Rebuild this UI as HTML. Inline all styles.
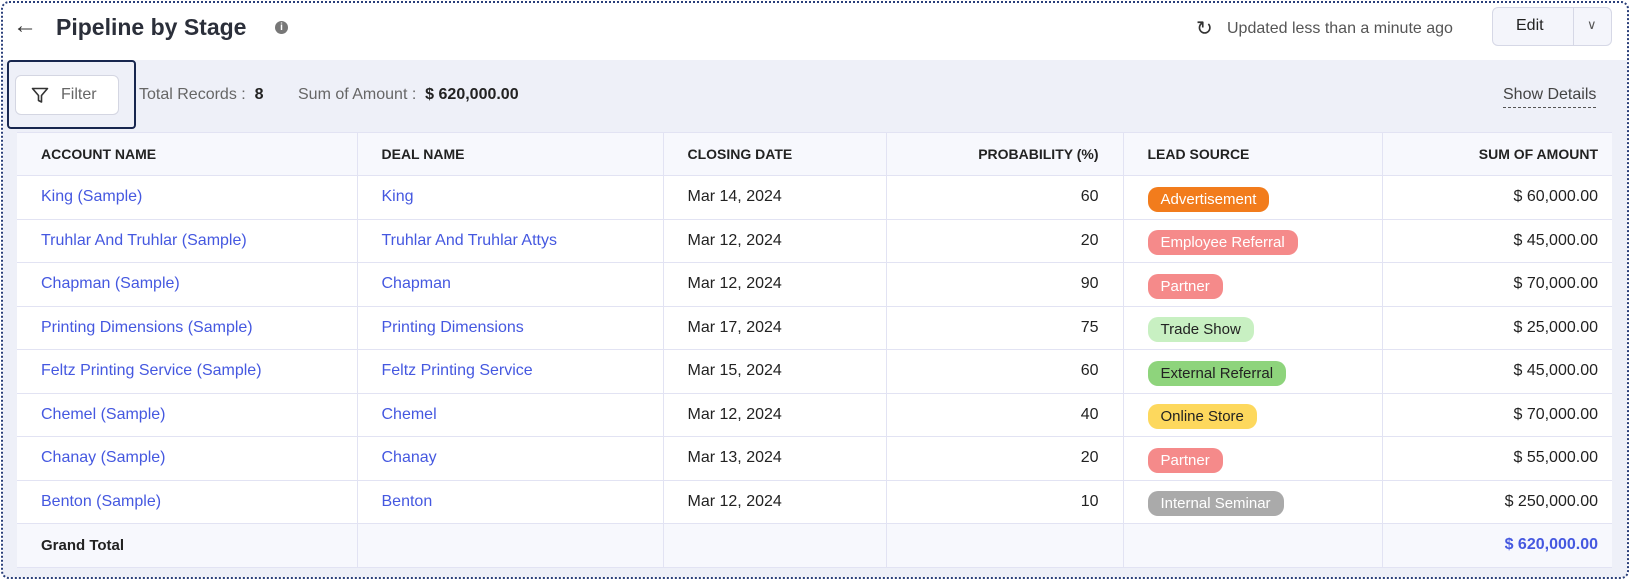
<!DOCTYPE html>
<html><head><meta charset="utf-8"><style>
*{box-sizing:border-box;margin:0;padding:0}
body{width:1630px;height:580px;background:#fff;font-family:"Liberation Sans",sans-serif;color:#222;position:relative;overflow:hidden}
.frame{position:absolute;left:1px;top:1px;width:1628px;height:578px;border:2px dotted #2a3f7a;border-radius:8px}
.abs{position:absolute;white-space:nowrap}
.band{position:absolute;left:3px;top:60px;width:1624px;height:517px;background:#eef0f8}
table{position:absolute;left:17px;top:132px;width:1595px;border-collapse:collapse;background:#fff;font-size:16px}
td,th{border:1px solid #e2e3f3;height:43.5px;padding:0 24px;text-align:left}
th{height:43px;background:#f7f8fd;font-size:14px;font-weight:bold;color:#222}
tr td:first-child,tr th:first-child{border-left:none}
tr td:last-child,tr th:last-child{border-right:none;padding-right:14px}
.r{text-align:right}
a{color:#4558e0;text-decoration:none}
.b{display:inline-block;padding:0 13px;height:25px;line-height:25px;border-radius:10px;font-size:15px;position:relative;top:2px}
.tot td{background:#f7f8fd;font-weight:bold}
</style></head><body>
<div class="band"></div>
<div class="frame"></div>
<div class="abs" style="left:13px;top:12px;font-size:24px;color:#333">&#8592;</div>
<div class="abs" style="left:56px;top:14px;font-size:23px;font-weight:bold;color:#2b2f3a">Pipeline by Stage</div>
<div class="abs" style="left:275px;top:21px;width:13px;height:13px;border-radius:50%;background:#777;color:#fff;font-size:10px;text-align:center;line-height:13px;font-weight:bold">i</div>
<div class="abs" style="left:1196px;top:16px;font-size:20px;color:#333">&#8635;</div>
<div class="abs" style="left:1227px;top:20px;font-size:16px;color:#555">Updated less than a minute ago</div>
<div class="abs" style="left:1492px;top:7px;width:120px;height:39px;border:1px solid #d6d8e6;border-radius:6px;background:#f4f5fb"></div>
<div class="abs" style="left:1573px;top:8px;width:1px;height:37px;background:#d6d8e6"></div>
<div class="abs" style="left:1516px;top:17px;font-size:16px;color:#222">Edit</div>
<div class="abs" style="left:1587px;top:17px;font-size:13px;color:#555">&#8744;</div>
<div class="abs" style="left:7px;top:60px;width:129px;height:69px;border:2px solid #17264f;border-radius:4px"></div>
<div class="abs" style="left:15px;top:75px;width:104px;height:40px;border:1px solid #d4d6e2;border-radius:6px;background:#fff"></div>
<svg class="abs" style="left:31px;top:87px" width="18" height="17" viewBox="0 0 18 17"><path d="M1.5 1.5h15l-6 7v6.5l-3-1.5v-5z" fill="none" stroke="#333" stroke-width="1.6" stroke-linejoin="round"/></svg>
<div class="abs" style="left:61px;top:86px;font-size:16px;color:#666">Filter</div>
<div class="abs" style="left:139px;top:86px;font-size:16px;color:#666">Total Records : <b style="color:#222">&nbsp;8</b></div>
<div class="abs" style="left:298px;top:86px;font-size:16px;color:#666">Sum of Amount : <b style="color:#222">&nbsp;$ 620,000.00</b></div>
<div class="abs" style="left:1503px;top:86px;font-size:16px;color:#444;border-bottom:1px dashed #555;padding-bottom:3px">Show Details</div>
<table>
<colgroup><col style="width:340px"><col style="width:306px"><col style="width:223px"><col style="width:237px"><col style="width:259px"><col></colgroup>
<tr><th>ACCOUNT NAME</th><th>DEAL NAME</th><th>CLOSING DATE</th><th class="r">PROBABILITY (%)</th><th>LEAD SOURCE</th><th class="r">SUM OF AMOUNT</th></tr>
<tr><td><a>King (Sample)</a></td><td><a>King</a></td><td>Mar 14, 2024</td><td class="r">60</td><td><span class="b" style="background:#f27c1c;color:#fff">Advertisement</span></td><td class="r">$ 60,000.00</td></tr>
<tr><td><a>Truhlar And Truhlar (Sample)</a></td><td><a>Truhlar And Truhlar Attys</a></td><td>Mar 12, 2024</td><td class="r">20</td><td><span class="b" style="background:#f58a8a;color:#fff">Employee Referral</span></td><td class="r">$ 45,000.00</td></tr>
<tr><td><a>Chapman (Sample)</a></td><td><a>Chapman</a></td><td>Mar 12, 2024</td><td class="r">90</td><td><span class="b" style="background:#f58a8a;color:#fff">Partner</span></td><td class="r">$ 70,000.00</td></tr>
<tr><td><a>Printing Dimensions (Sample)</a></td><td><a>Printing Dimensions</a></td><td>Mar 17, 2024</td><td class="r">75</td><td><span class="b" style="background:#c8f0c2;color:#222">Trade Show</span></td><td class="r">$ 25,000.00</td></tr>
<tr><td><a>Feltz Printing Service (Sample)</a></td><td><a>Feltz Printing Service</a></td><td>Mar 15, 2024</td><td class="r">60</td><td><span class="b" style="background:#8ed47c;color:#222">External Referral</span></td><td class="r">$ 45,000.00</td></tr>
<tr><td><a>Chemel (Sample)</a></td><td><a>Chemel</a></td><td>Mar 12, 2024</td><td class="r">40</td><td><span class="b" style="background:#fdd85d;color:#222">Online Store</span></td><td class="r">$ 70,000.00</td></tr>
<tr><td><a>Chanay (Sample)</a></td><td><a>Chanay</a></td><td>Mar 13, 2024</td><td class="r">20</td><td><span class="b" style="background:#f58a8a;color:#fff">Partner</span></td><td class="r">$ 55,000.00</td></tr>
<tr><td><a>Benton (Sample)</a></td><td><a>Benton</a></td><td>Mar 12, 2024</td><td class="r">10</td><td><span class="b" style="background:#aaa;color:#fff">Internal Seminar</span></td><td class="r">$ 250,000.00</td></tr>
<tr class="tot"><td style="font-size:15px">Grand Total</td><td></td><td></td><td></td><td></td><td class="r" style="color:#4558e0">$ 620,000.00</td></tr>
</table>
</body></html>
